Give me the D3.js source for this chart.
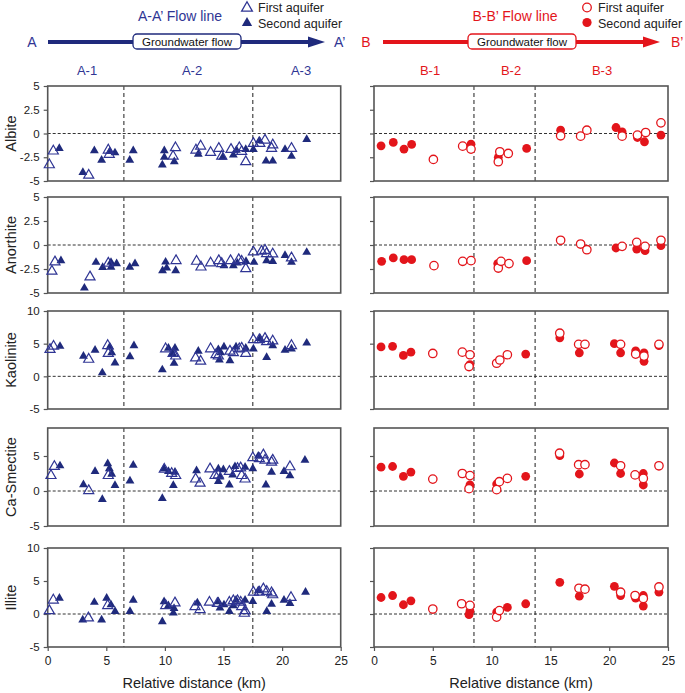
<!DOCTYPE html>
<html><head><meta charset="utf-8">
<script src="https://cdn.jsdelivr.net/npm/d3@7"></script>
<style>body{margin:0;background:#fff;} text{font-family:Arial,"Liberation Sans",sans-serif;}</style>
</head><body><svg id="c" width="685" height="693"></svg>
<script>
// ---- data: [distance km, value] ----
const minerals = ["Albite","Anorthite","Kaolinite","Ca-Smectite","Illite"];
const leftBoundaries = [6.5, 17.5];
const rightBoundaries = [8.5, 13.7];
const xTicks = [0,5,10,15,20,25];
const zoneA = ["A-1","A-2","A-3"];
const zoneB = ["B-1","B-2","B-3"];

const albiteA1 = [[0.14,-3.3],[0.48,-1.85],[3.5,-4.4],[5.17,-1.75],[5.25,-2.2],[10.9,-1.5],[10.7,-2.4],[12.65,-1.75],[13.05,-1.33],[13.9,-2.0],[14.6,-1.57],[14.85,-2.4],[15.64,-1.68],[16.35,-1.5],[16.55,-1.9],[16.9,-2.97],[17.55,-1.05],[18.1,-1.05],[18.54,-0.7],[19.1,-1.57],[19.2,-1.2],[20.8,-1.57]];
const albiteA2 = [[0.99,-1.57],[3.0,-4.1],[3.98,-1.8],[4.6,-2.8],[5.3,-1.9],[5.74,-2.03],[7.0,-2.8],[7.3,-1.8],[9.78,-3.3],[9.95,-1.8],[9.95,-2.5],[10.8,-2.97],[12.85,-2.17],[14.93,-2.5],[15.84,-2.27],[16.1,-1.75],[16.9,-1.68],[17.55,-1.68],[18.05,-0.77],[18.63,-2.9],[19.2,-2.9],[20.25,-1.68],[20.8,-2.4],[22.1,-0.63]];
const anorthiteA1 = [[0.36,-2.74],[0.62,-1.77],[3.61,-3.33],[5.17,-1.9],[10.95,-1.63],[12.7,-1.7],[13.08,-2.3],[13.9,-1.88],[14.6,-1.63],[14.85,-1.94],[15.6,-1.63],[16.3,-1.53],[16.55,-1.7],[16.9,-2.47],[17.55,-0.73],[18.25,-0.66],[18.54,-0.56],[18.68,-0.9],[19.2,-0.94],[20.8,-1.35]];
const anorthiteA2 = [[1.13,-1.63],[3.13,-4.48],[4.12,-1.8],[4.69,-2.33],[5.4,-1.8],[5.4,-2.3],[5.88,-1.94],[7.0,-2.3],[7.45,-1.94],[9.8,-2.67],[10.06,-1.77],[10.15,-2.4],[10.92,-2.67],[15.04,-2.15],[15.84,-2.15],[16.18,-1.88],[16.92,-1.7],[17.6,-1.8],[18.68,-1.63],[19.2,-1.7],[20.25,-1.08],[20.8,-1.8],[22.1,-0.76]];
const kaoliniteA1 = [[0.2,4.1],[0.5,4.6],[3.5,2.6],[5.12,4.7],[5.17,3.5],[10.06,4.2],[10.7,3.5],[10.92,3.1],[12.62,2.8],[13.05,2.3],[13.9,4.2],[14.36,3.3],[14.56,3.1],[15.55,3.85],[15.84,3.6],[16.35,4.2],[16.55,4.3],[16.9,3.5],[17.55,5.6],[18.06,5.6],[18.54,5.8],[18.68,5.3],[19.2,5.4],[20.8,4.7]];
const kaoliniteA2 = [[1.05,4.6],[3.05,3.1],[4.04,4.0],[4.66,0.54],[5.3,4.5],[5.46,3.6],[5.74,2.05],[7.02,3.0],[7.36,4.7],[9.78,1.0],[10.3,4.3],[10.64,3.5],[10.78,2.0],[10.86,4.3],[12.85,3.85],[14.56,4.1],[14.65,2.5],[14.76,3.6],[15.04,4.5],[15.55,2.4],[16.07,4.5],[16.9,4.3],[17.55,4.2],[18.12,5.8],[18.68,2.9],[19.2,4.7],[20.25,4.0],[20.8,4.2],[22.1,5.1]];
const smectiteA1 = [[0.28,2.2],[0.57,3.5],[3.5,0.05],[5.17,2.2],[9.95,3.1],[10.58,2.5],[10.92,2.2],[12.62,1.7],[13.0,1.1],[13.85,3.15],[14.28,2.2],[14.56,2.3],[15.5,2.8],[16.2,3.2],[16.46,3.3],[16.55,2.2],[16.84,1.7],[17.5,4.75],[18.06,4.6],[18.4,5.15],[18.54,4.4],[19.1,4.1],[19.2,4.4],[20.67,3.45]];
const smectiteA2 = [[1.05,3.6],[3.05,0.9],[4.04,2.8],[4.66,-1.2],[5.12,3.9],[5.26,3.2],[5.46,2.4],[5.74,0.8],[7.02,1.45],[7.3,3.7],[9.78,-1.07],[9.92,3.2],[10.3,2.8],[10.72,0.8],[10.86,2.7],[12.7,2.9],[14.56,3.15],[14.56,1.35],[14.7,2.0],[14.99,3.05],[15.5,0.87],[15.78,2.3],[15.98,3.5],[16.84,3.4],[17.5,3.2],[17.97,5.0],[18.62,0.87],[19.1,2.7],[20.16,2.8],[20.67,2.2],[21.95,4.4]];
const illiteA1 = [[0.14,0.5],[0.48,2.1],[3.47,-0.6],[5.12,1.27],[10.07,1.27],[10.86,1.67],[12.57,1.1],[13.0,0.66],[13.8,1.78],[14.48,1.6],[15.5,1.78],[15.84,2.0],[16.2,2.0],[16.47,1.78],[16.55,1.1],[16.78,0.1],[16.84,0.5],[17.55,3.3],[18.06,3.3],[18.4,3.8],[18.69,3.4],[19.1,3.2],[19.2,2.9],[20.76,2.5]];
const illiteA2 = [[1.0,2.4],[2.99,-0.9],[3.98,1.78],[4.6,-0.9],[5.03,2.4],[5.4,1.4],[5.75,0.4],[7.02,0.4],[7.3,2.1],[9.78,-1.17],[9.93,1.88],[10.3,1.27],[10.72,0.15],[10.78,0.86],[12.77,1.67],[14.56,1.88],[14.7,0.9],[15.04,1.4],[15.5,0.4],[15.84,1.27],[16.07,2.1],[16.84,2.1],[17.5,1.9],[17.97,3.55],[18.69,0.4],[19.1,1.5],[20.16,2.1],[20.67,1.6],[22.0,3.3]];

const albiteB1 = [[5.05,-2.73],[7.54,-1.33],[8.25,-1.64],[10.7,-1.92],[10.57,-2.97],[11.42,-2.1],[15.87,-0.24],[17.57,-0.28],[18.1,0.35],[21.1,-0.28],[22.4,-0.17],[23.1,0.1],[24.4,1.12]];
const albiteB2 = [[0.6,-1.3],[1.64,-0.94],[2.55,-1.64],[3.2,-1.15],[8.25,-1.12],[10.57,-2.5],[12.98,-1.57],[15.87,0.35],[20.58,0.63],[21.1,0.17],[22.4,-0.42],[23.0,-0.87],[24.4,-0.17]];
const anorthiteB1 = [[5.1,-2.15],[7.54,-1.7],[8.25,-1.63],[10.57,-2.4],[10.8,-1.7],[11.48,-1.94],[15.87,0.49],[17.57,0.1],[18.1,-0.49],[21.1,-0.14],[22.34,0.28],[23.05,-0.14],[24.4,0.49]];
const anorthiteB2 = [[0.65,-1.7],[1.64,-1.35],[2.55,-1.53],[3.2,-1.53],[10.52,-1.94],[12.98,-1.63],[20.58,-0.31],[22.34,-0.42],[23.05,-0.59],[24.4,-0.07]];
const kaoliniteB1 = [[5.0,3.5],[7.51,3.7],[8.16,3.3],[8.08,1.5],[10.43,2.0],[10.7,2.5],[11.34,3.3],[15.8,6.6],[17.4,4.9],[17.94,4.9],[20.97,4.9],[22.25,3.4],[22.96,3.1],[24.23,4.9]];
const kaoliniteB2 = [[0.6,4.5],[1.58,4.6],[2.5,3.2],[3.14,3.7],[8.16,1.8],[12.9,3.4],[15.8,5.9],[17.46,3.6],[20.44,5.0],[20.97,3.6],[22.25,3.9],[22.96,3.6],[22.96,2.3],[24.23,4.7]];
const smectiteB1 = [[5.0,1.7],[7.51,2.5],[8.16,2.2],[8.08,0.33],[10.43,0.19],[10.66,1.33],[11.34,1.8],[15.78,5.4],[17.4,3.76],[17.94,3.76],[20.97,3.6],[22.2,2.3],[22.9,1.8],[24.23,3.6]];
const smectiteB2 = [[0.6,3.4],[1.58,3.5],[2.5,2.1],[3.14,2.7],[8.16,0.86],[10.43,1.0],[12.9,2.1],[15.8,5.05],[17.46,2.43],[20.44,4.0],[20.97,2.5],[22.9,2.5],[22.9,0.86]];
const illiteB1 = [[5.0,0.75],[7.45,1.55],[8.16,1.3],[10.43,-0.47],[10.66,0.52],[17.43,3.9],[17.94,3.76],[20.97,3.3],[22.2,2.8],[22.9,2.35],[24.23,4.1]];
const illiteB2 = [[0.6,2.5],[1.58,2.8],[2.5,1.4],[3.14,2.0],[8.16,0.47],[8.08,-0.1],[10.43,0.28],[11.34,1.0],[12.9,1.55],[15.8,4.8],[17.46,2.7],[20.44,4.2],[20.97,2.8],[22.25,2.4],[22.9,2.8],[22.9,1.2],[24.23,3.3]];

// ---- layout ----
const NAVY = "#1f2a7c", NAVYT = "#2f3594", RED = "#e3151b", FRAME = "#555";
const svg = d3.select("#c");
const xL = d3.scaleLinear().domain([0,25]).range([47.7,340.7]);
const xR = d3.scaleLinear().domain([0,25]).range([374,668]);
const panelDefs = [
  {top:86, bottom:181, dom:[-5,5], ticks:[-5,-2.5,0,2.5,5], A:[albiteA1,albiteA2], B:[albiteB1,albiteB2]},
  {top:197, bottom:293, dom:[-5,5], ticks:[-5,-2.5,0,2.5,5], A:[anorthiteA1,anorthiteA2], B:[anorthiteB1,anorthiteB2]},
  {top:311, bottom:409, dom:[-5,10], ticks:[-5,0,5,10], A:[kaoliniteA1,kaoliniteA2], B:[kaoliniteB1,kaoliniteB2]},
  {top:428, bottom:526, dom:[-5,9], ticks:[-5,0,5], A:[smectiteA1,smectiteA2], B:[smectiteB1,smectiteB2]},
  {top:548, bottom:647, dom:[-5,10], ticks:[-5,0,5,10], A:[illiteA1,illiteA2], B:[illiteB1,illiteB2]}
];

const tri = d3.symbol().type(d3.symbolTriangle);
function drawPanel(p, i, side){
  const x = side === "A" ? xL : xR;
  const y = d3.scaleLinear().domain(p.dom).range([p.bottom, p.top]);
  const g = svg.append("g");
  const [x0,x1] = x.range();
  // zero line
  g.append("line").attr("x1",x0).attr("x2",x1).attr("y1",y(0)).attr("y2",y(0))
    .attr("stroke","#333").attr("stroke-width",1).attr("stroke-dasharray","3,2");
  // boundaries
  (side==="A"?leftBoundaries:rightBoundaries).forEach(b=>{
    g.append("line").attr("x1",x(b)).attr("x2",x(b)).attr("y1",p.top).attr("y2",p.bottom)
      .attr("stroke","#333").attr("stroke-width",1.1).attr("stroke-dasharray","4,3");
  });
  // y axis
  const ya = d3.axisLeft(y).tickValues(p.ticks).tickSize(4).tickFormat(side==="A"? (d=>String(d)) : (()=>""));
  const ag = g.append("g").attr("transform",`translate(${x0},0)`).call(ya);
  ag.select(".domain").remove();
  ag.selectAll("line").attr("stroke",FRAME).attr("stroke-width",1.2);
  ag.selectAll("text").attr("font-size",11.5).attr("fill","#222").attr("font-family","Arial, Liberation Sans, sans-serif").attr("dx",-1);
  if(i===4){
    const xa = d3.axisBottom(x).tickValues(xTicks).tickSize(4).tickFormat(d=>String(d));
    const xg = g.append("g").attr("transform",`translate(0,${p.bottom})`).call(xa);
    xg.select(".domain").remove();
    xg.selectAll("line").attr("stroke",FRAME).attr("stroke-width",1.2);
    xg.selectAll("text").attr("font-size",12).attr("fill","#222").attr("font-family","Arial, Liberation Sans, sans-serif").attr("dy","0.9em");
    g.append("text").attr("x",(x0+x1)/2).attr("y",688).attr("text-anchor","middle")
      .attr("font-size",14.5).attr("fill","#222").text("Relative distance (km)");
  }
  // frame
  g.append("rect").attr("x",x0).attr("y",p.top).attr("width",x1-x0).attr("height",p.bottom-p.top)
    .attr("fill","none").attr("stroke",FRAME).attr("stroke-width",1.6);
  // markers
  const [first, second] = side==="A" ? p.A : p.B;
  if(side==="A"){
    g.selectAll(".f").data(second).join("path").attr("d",tri.size(34)())
      .attr("transform",d=>`translate(${x(d[0])},${y(d[1])})`).attr("fill",NAVY);
    g.selectAll(".o").data(first).join("path").attr("d",tri.size(44)())
      .attr("transform",d=>`translate(${x(d[0])},${y(d[1])})`).attr("fill","#fff").attr("fill-opacity",0)
      .attr("stroke",NAVYT).attr("stroke-width",1.2);
  } else {
    g.selectAll(".f").data(second).join("circle").attr("cx",d=>x(d[0])).attr("cy",d=>y(d[1])).attr("r",4.4).attr("fill",RED);
    g.selectAll(".o").data(first).join("circle").attr("cx",d=>x(d[0])).attr("cy",d=>y(d[1])).attr("r",4.2)
      .attr("fill","#fff").attr("stroke",RED).attr("stroke-width",1.3);
  }
  if(side==="A"){
    g.append("text").attr("transform",`translate(16,${(p.top+p.bottom)/2}) rotate(-90)`)
      .attr("text-anchor","middle").attr("font-size",14.5).attr("fill","#222").text(minerals[i]);
  }
}
panelDefs.forEach((p,i)=>{drawPanel(p,i,"A");drawPanel(p,i,"B");});

// ---- header ----
function header(cfg){
  const h = svg.append("g");
  h.append("text").attr("x",cfg.titleX).attr("y",21).attr("text-anchor","middle").attr("font-size",14).attr("fill",cfg.tcol).text(cfg.title);
  h.append("rect").attr("x",cfg.x0).attr("y",40).attr("width",cfg.headX-cfg.x0).attr("height",4).attr("fill",cfg.col);
  h.append("path").attr("d",`M${cfg.headX},36.5 L${cfg.tipX},42 L${cfg.headX},47.5 Z`).attr("fill",cfg.col);
  h.append("rect").attr("x",cfg.bx).attr("y",34).attr("width",cfg.bw).attr("height",15).attr("rx",4)
    .attr("fill","#fff").attr("stroke",cfg.col).attr("stroke-width",1.3);
  h.append("text").attr("x",cfg.bx+cfg.bw/2).attr("y",45.5).attr("text-anchor","middle").attr("font-size",11.5).attr("fill","#111").text("Groundwater flow");
  h.append("text").attr("x",cfg.lX).attr("y",47).attr("text-anchor","middle").attr("font-size",14).attr("fill",cfg.tcol).text(cfg.lab[0]);
  h.append("text").attr("x",cfg.rX).attr("y",47).attr("text-anchor","start").attr("font-size",14).attr("fill",cfg.tcol).text(cfg.lab[1]);
  cfg.zones.forEach((z,k)=>h.append("text").attr("x",cfg.zx[k]).attr("y",75).attr("text-anchor","middle").attr("font-size",13).attr("fill",cfg.tcol).text(z));
  // legend
  h.append("text").attr("x",cfg.legX+11).attr("y",12).attr("font-size",12.5).attr("fill","#222").text("First aquifer");
  h.append("text").attr("x",cfg.legX+11).attr("y",27.5).attr("font-size",12.5).attr("fill","#222").text("Second aquifer");
  if(cfg.kind==="tri"){
    h.append("path").attr("d",tri.size(50)()).attr("transform",`translate(${cfg.legX},8)`).attr("fill","none").attr("stroke",NAVYT).attr("stroke-width",1.3);
    h.append("path").attr("d",tri.size(46)()).attr("transform",`translate(${cfg.legX},23)`).attr("fill",NAVY);
  } else {
    h.append("circle").attr("cx",cfg.legX).attr("cy",7.5).attr("r",4.3).attr("fill","#fff").attr("stroke",RED).attr("stroke-width",1.3);
    h.append("circle").attr("cx",cfg.legX).attr("cy",22.5).attr("r",4.6).attr("fill",RED);
  }
}
header({title:"A-A\u2019 Flow line", titleX:180, col:NAVY, tcol:NAVYT, x0:48, headX:308, tipX:325, bx:133, bw:108,
  lX:32, rX:334, lab:["A","A\u2019"], zones:zoneA, zx:[87,192,301], legX:247, kind:"tri"});
header({title:"B-B\u2019 Flow line", titleX:515, col:RED, tcol:RED, x0:383, headX:643, tipX:660, bx:468, bw:108,
  lX:366, rX:671, lab:["B","B\u2019"], zones:zoneB, zx:[430,511,602], legX:587, kind:"circ"});
</script></body></html>
